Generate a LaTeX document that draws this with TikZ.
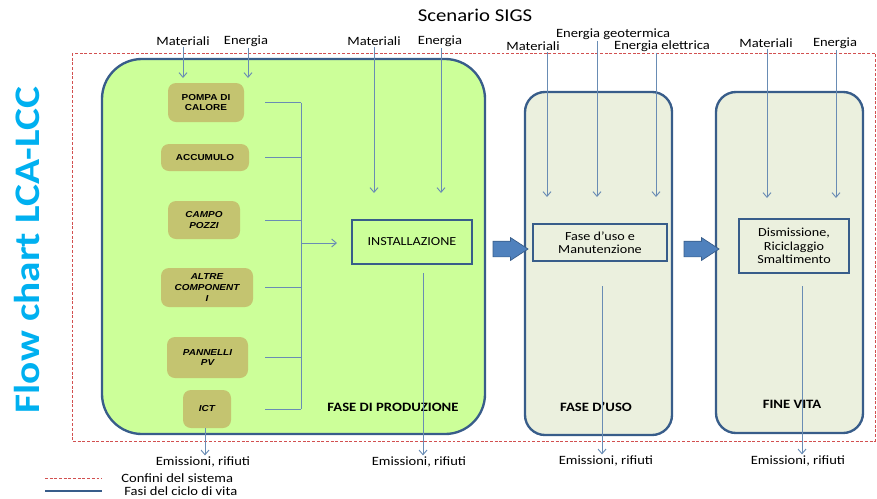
\documentclass[tikz,border=0pt]{standalone}
\usepackage{fontspec}
\setmainfont{Carlito}[FakeStretch=1.15]
\newfontfamily\partfont{Liberation Sans}[FakeStretch=1.15]
\usetikzlibrary{arrows.meta,shapes.arrows}
\definecolor{phaseblue}{RGB}{56,93,138}
\definecolor{flowblue}{RGB}{105,140,180}
\definecolor{arrowblue}{RGB}{79,129,189}
\definecolor{prodfill}{RGB}{204,255,153}
\definecolor{usefill}{RGB}{235,240,222}
\definecolor{partfill}{RGB}{196,196,112}
\definecolor{bordred}{RGB}{210,80,80}
\definecolor{sidecyan}{RGB}{0,176,240}
\tikzset{
    every node/.style={font=\fontsize{10.8pt}{12.5pt}\selectfont, inner sep=1pt}
}
\tikzset{
    phase/.style={draw=phaseblue, line width=2pt, fill=usefill, rounded corners=0.6cm},
    part/.style={fill=partfill, rounded corners=0.24cm, align=center,
    	font=\partfont\bfseries\fontsize{7.4pt}{9pt}\selectfont},
    itpart/.style={part, font=\partfont\bfseries\itshape\fontsize{7.4pt}{9pt}\selectfont},
    stepbox/.style={draw=phaseblue, line width=1.8pt, align=center,
    	font=\fontsize{10.5pt}{11.5pt}\selectfont},
    phasetitle/.style={font=\bfseries\fontsize{10.9pt}{12pt}\selectfont},
    flow/.style={draw=flowblue, line width=0.8pt, -{Straight Barb[length=1.4mm,width=2.4mm]}},
    bus/.style={draw=flowblue, line width=0.8pt},
    boundary/.style={draw=bordred, line width=0.7pt, dash pattern=on 2.5pt off 1.5pt},
    bigarrow/.style={single arrow, fill=arrowblue, draw=phaseblue, line width=0.6pt,
    	inner xsep=0pt, inner ysep=0.225cm, single arrow head extend=0.105cm,
    	single arrow tip angle=66, minimum height=1.05cm}
}

\begin{document}
\begin{tikzpicture}[x=0.03cm, y=-0.03cm]
	\useasboundingbox (0,0) rectangle (877,498);
	% titles
	\node (title) at (475,15) {\fontsize{15.4pt}{17pt}\selectfont Scenario SIGS};
	\node (side) [rotate=90, text=sidecyan, font=\bfseries\fontsize{30.7pt}{32pt}\selectfont]
		at (27,250) {Flow chart LCA-LCC};
	% system boundary
	\draw[boundary] (72,53) rectangle (875,441);
	
	% life cycle phases
	\node (prod) [phase, fill=prodfill, rounded corners=1.2cm, minimum width=11.49cm,
		minimum height=11.25cm] at (293.5,246.5) {};
	\node (use) [phase, minimum width=4.41cm, minimum height=10.29cm] at (598.5,263.5) {};
	\node (end) [phase, minimum width=4.41cm, minimum height=10.23cm] at (789.5,262.5) {};
	\node (a1) [bigarrow] at (504.5,249) {};
	\node (a2) [bigarrow] at (695.5,249) {};
	
	% components
	\node (pompa) [part, minimum width=2.28cm, minimum height=1.17cm] at (206,102.5) {POMPA DI\\CALORE};
	\node (accu) [part, minimum width=2.64cm, minimum height=0.81cm] at (205,157.5) {ACCUMULO};
	\node (campo) [itpart, minimum width=2.16cm, minimum height=1.14cm] at (204,220) {CAMPO\\POZZI};
	\node (altre) [itpart, minimum width=2.76cm, minimum height=1.17cm] at (207,287.5) {ALTRE\\COMPONENT\\I};
	\node (pann) [itpart, minimum width=2.43cm, minimum height=1.23cm] at (207.5,357.5) {PANNELLI\\PV};
	\node (ict) [itpart, minimum width=1.44cm, minimum height=1.14cm] at (207,409) {ICT};
	
	% process boxes
	\node (inst) [stepbox, fill=prodfill, minimum width=3.6cm, minimum height=1.32cm] at (412,242) {INSTALLAZIONE};
	\node (maint) [stepbox, fill=usefill, minimum width=4.02cm, minimum height=1.11cm] at (600,242.5) {Fase d’uso e\\Manutenzione};
	\node (dism) [stepbox, fill=usefill, minimum width=3.3cm, minimum height=1.62cm] at (794,246) {Dismissione,\\Riciclaggio\\Smaltimento};
	
	\node (prodt) [phasetitle] at (393,407) {FASE DI PRODUZIONE};
	\node (uset) [phasetitle] at (596,407) {FASE D’USO};
	\node (endt) [phasetitle] at (792,404) {FINE VITA};
	
	% components to installation
	\coordinate (busl) at (265,0);
	\coordinate (busx) at (301,0);
	\coordinate (instin) at (337,243);
	\foreach \c in {pompa,accu,campo,altre,pann,ict}
		\draw[bus] (\c.east -| busl) -- (\c.east -| busx);
	\draw[bus] (pompa.east -| busx) -- (ict.east -| busx);
	\draw[flow] (instin -| busx) -- (instin);
	
	% inputs
	\node (matP) at (183,41) {Materiali};
	\node (enP) at (246,41) {Energia};
	\node (matI) at (374,41) {Materiali};
	\node (enI) at (440,41) {Energia};
	\node (matU) at (533,46) {Materiali};
	\node (geoU) at (613,34) {Energia geotermica};
	\node (elU) at (662,46) {Energia elettrica};
	\node (matE) at (766,43) {Materiali};
	\node (enE) at (835,43) {Energia};
	
	\coordinate (matPe) at (183,78);
	\coordinate (enPe) at (248,78);
	\coordinate (matIe) at (374,193);
	\coordinate (enIe) at (441,193);
	\coordinate (matUe) at (547,197);
	\coordinate (geoUe) at (597,197);
	\coordinate (elUe) at (656,197);
	\coordinate (matEe) at (767,198);
	\coordinate (enEe) at (836,198);
	\foreach \i in {matP,enP,matI,enI,matU,geoU,elU,matE,enE}
		\draw[flow] (\i e |- \i.south) -- (\i e);
	
	% outputs
	\node (emP) at (203,462) {Emissioni, rifiuti};
	\node (emI) at (419,462) {Emissioni, rifiuti};
	\node (emU) at (606,461) {Emissioni, rifiuti};
	\node (emE) at (798,461) {Emissioni, rifiuti};
	\coordinate (instout) at (423,273);
	\coordinate (useout) at (602,286);
	\coordinate (endout) at (802,286);
	\draw[flow] ([xshift=-0.06cm]ict.south) -- ([xshift=-0.06cm]ict.south |- emP.north);
	\draw[flow] (instout) -- (instout |- emI.north);
	\draw[flow] (useout) -- (useout |- emU.north);
	\draw[flow] (endout) -- (endout |- emE.north);
	
	% legend
	\coordinate (lg1) at (45,478);
	\coordinate (lg1e) at (102,478);
	\coordinate (lg2) at (45,491);
	\coordinate (lg2e) at (102,491);
	\draw[boundary] (lg1) -- (lg1e);
	\draw[draw=phaseblue, line width=1pt] (lg2) -- (lg2e);
	\node (lgt1) [anchor=west] at (120,478) {Confini del sistema};
	\node (lgt2) [anchor=west] at (123,491) {Fasi del ciclo di vita};
\end{tikzpicture}
\end{document}
